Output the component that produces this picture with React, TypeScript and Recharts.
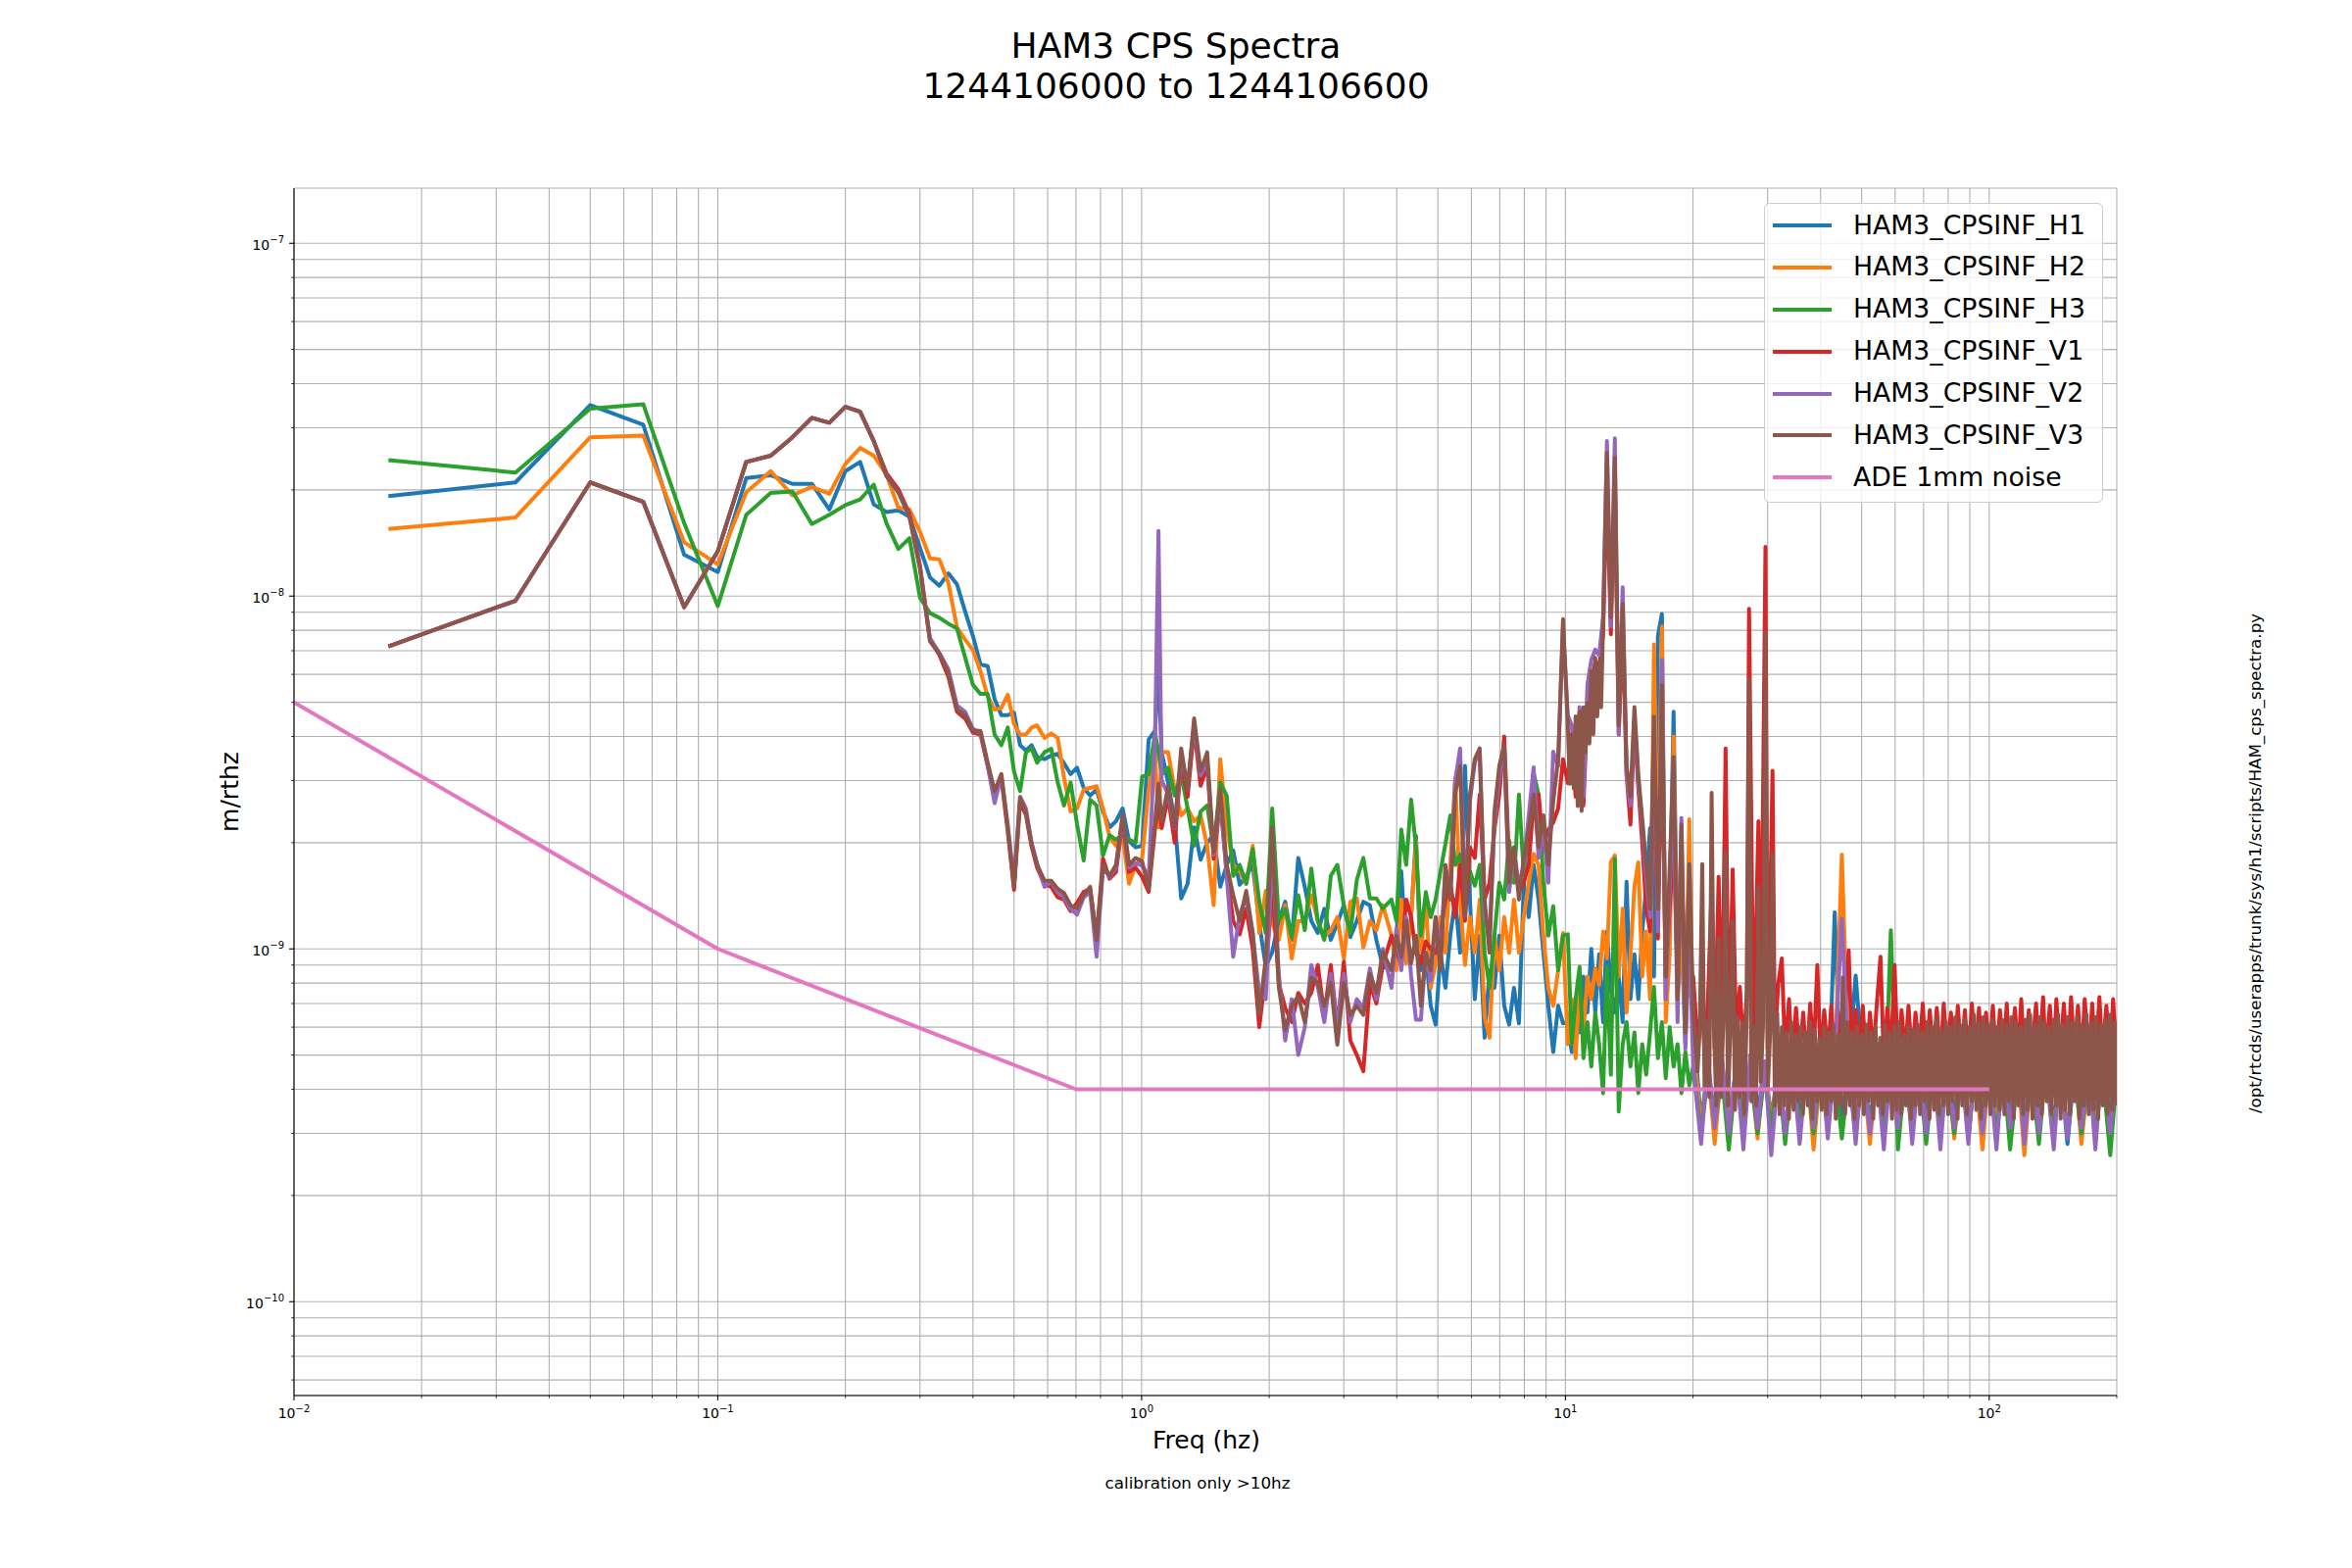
import { LineChart, Line, XAxis, YAxis, CartesianGrid, Legend } from 'recharts'

const FONT = '"DejaVu Sans", "Liberation Sans", sans-serif'

// All amplitudes below are in units of 1e-9 m/rtHz (scaled when the series are built).
const NANO = 1e-9

const FREQ_LOW = [
  0.0167, 0.0333, 0.05, 0.0667, 0.0833, 0.1, 0.1167, 0.1333, 0.15, 0.1667, 0.1833, 0.2, 0.2167, 0.2333,
  0.25, 0.2667, 0.2833, 0.3, 0.3167, 0.3333, 0.35, 0.3667, 0.3833, 0.4, 0.4167, 0.4333, 0.45, 0.4667,
  0.4833, 0.5, 0.5167, 0.5333, 0.55, 0.5667,
]
const FREQ_MID = [
  0.59, 0.612, 0.634, 0.656, 0.68, 0.704, 0.73, 0.756, 0.783, 0.811, 0.84, 0.87, 0.902, 0.934, 0.968,
  1.003, 1.039, 1.076, 1.096, 1.115, 1.155, 1.197, 1.24, 1.284, 1.33, 1.378, 1.428, 1.479, 1.533, 1.588,
  1.645, 1.704, 1.765, 1.829, 1.895, 1.963, 2.033, 2.107, 2.182, 2.261, 2.342, 2.427, 2.514, 2.605,
  2.698, 2.795, 2.896, 3.0, 3.108, 3.22, 3.336, 3.456, 3.58, 3.709,
]
const FREQ_BAND = [
  3.887, 3.992, 4.099, 4.21, 4.324, 4.44, 4.56, 4.683, 4.81, 4.94, 5.073, 5.21, 5.35, 5.495, 5.643,
  5.795, 5.952, 6.112, 6.277, 6.447, 6.621, 6.799, 6.983, 7.171, 7.365, 7.563, 7.768, 7.977, 8.193,
  8.414, 8.641, 8.874, 9.113, 9.359, 9.612, 9.871,
]
const FREQ_PEAK = [
  10.13, 10.35, 10.57, 10.8, 11.03, 11.27, 11.51, 11.76, 12.01, 12.27, 12.53, 12.8, 13.08, 13.36, 13.65,
  13.94, 14.24, 14.55, 14.86, 15.18, 15.51, 15.84, 16.18, 16.53, 16.89, 17.25, 17.62, 18.0, 18.39,
  18.78, 19.19, 19.6, 20.02,
]
// V3 is read more finely where its 10-12 Hz hump forms a solid band
const FREQ_PEAK_V3 = [
  10.13, 10.24, 10.35, 10.46, 10.57, 10.69, 10.8, 10.92, 11.03, 11.15, 11.27, 11.39, 11.51, 11.64, 11.76,
  11.89, 12.01, 12.14, 12.27, 12.53, 12.8, 13.08, 13.36, 13.65, 13.94, 14.24, 14.55, 14.86, 15.18,
  15.51, 15.84, 16.18, 16.53, 16.89, 17.25, 17.62, 18.0, 18.39, 18.78, 19.19, 19.6, 20.02,
]
// 20-200 Hz noise floor: V1 grid, a denser V3 grid and a coarse grid for the other channels
const FREQ_HI_FINE = [
  20.5, 21.03, 21.3, 21.7, 22.13, 22.5, 22.99, 23.4, 23.88, 24.3, 24.81, 25.3, 25.8, 26.3, 26.8, 27.12,
  27.8, 28.54, 28.9, 29.65, 30.0, 30.81, 31.2, 31.8, 32.4, 33.0, 33.7, 34.3, 35.0, 35.7, 36.4, 37.1,
  37.8, 38.5, 39.3, 40.0, 40.8, 41.6, 42.4, 43.2, 44.0, 44.9, 45.7, 46.6, 47.5, 48.4, 49.4, 50.3, 51.3,
  52.3, 53.3, 54.3, 55.4, 56.4, 57.5, 58.6, 59.8, 60.9, 62.1, 63.3, 64.5, 65.8, 67.0, 68.3, 69.7, 71.0,
  72.4, 73.8, 75.2, 76.7, 78.1, 79.6, 81.2, 82.7, 84.3, 86.0, 87.6, 89.3, 91.0, 92.8, 94.6, 96.4, 98.3,
  100, 102, 104, 106, 108, 110, 112, 115, 117, 119, 121, 124, 126, 129, 131, 134, 136, 139, 142, 144,
  147, 150, 153, 156, 159, 162, 165, 168, 172, 175, 178, 182, 185, 189, 193, 196, 200,
]
const FREQ_HI_DENSE = [
  20.5, 20.76, 21.03, 21.3, 21.57, 21.85, 22.13, 22.41, 22.7, 22.99,
  23.28, 23.58, 23.88, 24.19, 24.5, 24.81, 25.13, 25.45, 25.78, 26.11,
  26.44, 26.78, 27.12, 27.47, 27.82, 28.18, 28.54, 28.91, 29.28, 29.65,
  30.03, 30.42, 30.81, 31.2, 31.6, 32.0, 32.41, 32.83, 33.25, 33.68,
  34.11, 34.55, 34.99, 35.44, 35.89, 36.35, 36.82, 37.29, 37.77, 38.25,
  38.74, 39.24, 39.74, 40.25, 40.77, 41.29, 41.82, 42.35, 42.89, 43.44,
  44.0, 44.56, 45.13, 45.71, 46.3, 46.89, 47.49, 48.1, 48.72, 49.34,
  49.97, 50.61, 51.26, 51.92, 52.58, 53.26, 53.94, 54.63, 55.33, 56.04,
  56.75, 57.48, 58.22, 58.96, 59.72, 60.48, 61.26, 62.04, 62.84, 63.64,
  64.45, 65.28, 66.12, 66.96, 67.82, 68.69, 69.57, 70.46, 71.36, 72.28,
  73.2, 74.14, 75.09, 76.05, 77.02, 78.01, 79.01, 80.02, 81.05, 82.08,
  83.13, 84.2, 85.28, 86.37, 87.47, 88.59, 89.73, 90.88, 92.04, 93.22,
  94.41, 95.62, 96.85, 98.09, 99.34, 100.6, 101.9, 103.2, 104.5, 105.9,
  107.2, 108.6, 110.0, 111.4, 112.8, 114.3, 115.7, 117.2, 118.7, 120.2,
  121.8, 123.3, 124.9, 126.5, 128.1, 129.8, 131.4, 133.1, 134.8, 136.6,
  138.3, 140.1, 141.9, 143.7, 145.5, 147.4, 149.3, 151.2, 153.1, 155.1,
  157.1, 159.1, 161.1, 163.2, 165.3, 167.4, 169.6, 171.7, 173.9, 176.2,
  178.4, 180.7, 183.0, 185.4, 187.8, 190.2, 192.6, 195.1, 197.6, 200,
]
const FREQ_HI = [
  20.9, 21.7, 22.5, 23.4, 24.3, 25.3, 26.3, 27.3, 28.4, 29.5, 30.6, 31.8, 33.0, 34.3, 35.7, 37.1, 38.5,
  40.0, 41.6, 43.2, 44.9, 46.6, 48.4, 50.3, 52.3, 54.3, 56.4, 58.6, 60.9, 63.3, 65.8, 68.3, 71.0, 73.8,
  76.7, 79.6, 82.7, 86.0, 89.3, 92.8, 96.4, 100, 104, 108, 112, 117, 121, 126, 131, 136, 142, 147, 153,
  159, 165, 172, 178, 185, 193, 200,
]

// HAM3_CPSINF_H1
const H1_LOW = [
  19.2, 21, 34.8, 30.6, 13.1, 11.7, 21.6, 22, 20.8, 20.8, 17.6, 22.6, 24, 18.2, 17.3, 17.5, 16.8, 13.7,
  11.3, 10.7, 11.6, 10.8, 9.05, 7.7, 6.4, 6.33, 5.1, 4.6, 4.6, 4.67, 3.78, 3.65, 3.78, 3.5,
]
const H1_MID = [
  3.45, 3.53, 3.57, 3.36, 3.13, 3.26, 2.86, 2.72, 2.83, 2.45, 2.21, 2.3, 2.5, 2.02, 1.94, 1.96, 3.92,
  4.16, 6.2, 3.61, 2.96, 2.3, 1.39, 1.53, 2.21, 1.79, 2.0, 2.1, 1.5, 1.73, 1.9, 1.52, 1.61, 1.73, 1.18,
  0.89, 0.98, 1.2, 1.36, 1.06, 1.81, 1.5, 1.2, 1.11, 1.3, 1.06, 1.18, 1.33, 1.08, 1.2, 1.36, 1.33, 1.06,
  0.89,
]
const H1_BAND = [
  0.87, 1.09, 1.66, 0.975, 1.23, 2.09, 0.87, 0.975, 0.69, 0.61, 0.975, 0.775, 1.09, 1.38, 0.975, 3.3,
  1.38, 0.72, 1.09, 0.56, 0.87, 0.775, 1.09, 0.69, 0.61, 0.775, 0.615, 1.54, 1.23, 1.73, 1.38, 0.975,
  0.69, 0.51, 0.69, 0.615,
]
const H1_PEAK = [
  0.62, 0.51, 0.72, 0.58, 0.835, 0.66, 1.0, 0.66, 0.965, 0.62, 1.12, 0.77, 0.66, 0.835, 0.62, 1.55, 0.72,
  0.965, 0.72, 1.12, 1.5, 2.2, 0.835, 7.7, 8.9, 0.72, 1.3, 4.7, 0.835, 1.12, 0.537, 1.45, 0.62,
]
const H1_HI = [
  0.32, 0.47, 0.33, 0.48, 0.33, 0.46, 0.3, 0.47, 0.33, 0.48, 0.33, 0.46, 0.29, 0.47, 0.33, 0.48, 0.32,
  0.46, 0.33, 1.27, 0.32, 0.47, 0.84, 0.46, 0.32, 0.48, 0.33, 0.47, 0.32, 0.46, 0.32, 0.48, 0.33, 0.47,
  0.32, 0.46, 0.33, 0.48, 0.29, 0.47, 0.33, 0.46, 0.32, 0.48, 0.33, 0.47, 0.32, 0.46, 0.33, 0.48, 0.32,
  0.47, 0.28, 0.46, 0.33, 0.48, 0.32, 0.47, 0.33, 0.46,
]

// HAM3_CPSINF_H2
const H2_LOW = [
  15.5, 16.7, 28.2, 28.5, 14.2, 12.3, 19.7, 22.6, 19.3, 20.4, 19.5, 23.7, 26.3, 25, 22.1, 17.8, 17.6,
  15.2, 12.8, 12.7, 10.9, 8.15, 7.53, 7.03, 6.12, 5.2, 4.76, 4.82, 5.25, 4.34, 4.05, 4.05, 4.24, 4.3,
]
const H2_MID = [
  3.96, 4.08, 3.96, 3.06, 2.45, 2.5, 2.83, 2.86, 2.89, 2.5, 2.08, 1.96, 2.08, 1.53, 1.73, 1.81, 2.83,
  3.61, 2.21, 3.61, 3.61, 2.83, 2.39, 2.5, 2.3, 2.39, 1.96, 1.33, 3.45, 2.21, 1.73, 1.66, 1.53, 1.96,
  1.11, 1.46, 1.18, 1.06, 1.33, 0.94, 1.2, 1.2, 1.42, 1.2, 1.08, 1.13, 1.23, 0.94, 1.36, 1.39, 1.01, 1.2,
  1.13, 1.33,
]
const H2_BAND = [
  1.09, 0.87, 1.38, 0.91, 1.23, 2.03, 0.975, 1.38, 0.775, 0.91, 1.23, 0.975, 1.73, 3.05, 1.38, 0.9, 1.23,
  0.975, 1.38, 0.64, 0.56, 1.09, 0.87, 1.23, 0.975, 1.38, 0.975, 1.23, 1.54, 1.86, 1.73, 1.09, 0.775,
  0.69, 0.87, 1.11,
]
const H2_PEAK = [
  0.537, 0.72, 0.49, 0.79, 0.58, 0.835, 0.72, 0.88, 0.79, 1.12, 0.94, 1.76, 1.84, 0.835, 1.3, 0.66,
  0.965, 1.5, 1.76, 0.835, 1.12, 0.72, 7.3, 1.5, 8.2, 0.62, 0.965, 4.0, 0.72, 1.12, 0.62, 2.33, 0.537,
]
const H2_HI = [
  0.31, 0.46, 0.28, 0.47, 0.32, 0.45, 0.31, 0.46, 0.29, 0.47, 0.32, 0.45, 0.31, 0.46, 0.3, 0.47, 0.27,
  0.45, 0.31, 0.46, 1.85, 0.45, 0.31, 0.47, 0.28, 0.46, 0.31, 0.45, 0.3, 0.47, 0.3, 0.46, 0.31, 0.45,
  0.3, 0.47, 0.29, 0.46, 0.31, 0.45, 0.27, 0.47, 0.31, 0.46, 0.3, 0.45, 0.26, 0.47, 0.31, 0.46, 0.31,
  0.45, 0.3, 0.47, 0.28, 0.46, 0.31, 0.45, 0.31, 0.46,
]

// HAM3_CPSINF_H3
const H3_LOW = [
  24.3, 22.4, 34, 35, 16.1, 9.37, 17, 19.6, 19.8, 16, 17, 18.1, 18.8, 20.7, 16.1, 13.6, 14.6, 9.9, 8.95,
  8.68, 8.35, 8.1, 6.7, 5.6, 5.28, 5.28, 4.05, 3.78, 4.24, 3.18, 2.8, 3.6, 3.7, 3.37,
]
const H3_MID = [
  3.61, 3.69, 2.96, 2.55, 2.96, 2.26, 1.78, 2.65, 2.55, 1.84, 2.1, 2.04, 2.1, 2.04, 2.0, 3.08, 3.12,
  4.08, 3.61, 3.12, 3.26, 2.72, 3.12, 2.5, 1.96, 2.45, 2.55, 1.92, 2.96, 2.72, 1.61, 1.73, 1.53, 1.92,
  1.36, 1.11, 2.5, 1.2, 1.3, 1.08, 1.42, 1.13, 1.69, 1.2, 1.06, 1.61, 1.73, 1.33, 1.11, 1.57, 1.81, 1.39,
  1.39, 1.3,
]
const H3_BAND = [
  1.38, 1.2, 2.18, 1.73, 2.65, 1.94, 1.09, 1.45, 1.23, 1.38, 1.66, 1.98, 2.39, 1.73, 1.85, 1.38, 1.66,
  1.51, 1.73, 0.975, 0.775, 1.09, 1.54, 1.38, 2.03, 1.54, 2.74, 1.62, 2.18, 3.15, 2.74, 1.54, 1.09,
  1.32, 0.87, 1.09,
]
const H3_PEAK = [
  1.1, 0.537, 0.72, 0.89, 0.49, 0.62, 0.464, 0.66, 0.537, 0.39, 0.89, 0.44, 1.8, 0.346, 0.537, 0.62,
  0.464, 0.58, 0.39, 0.537, 0.44, 0.58, 0.78, 0.49, 0.62, 0.43, 0.6, 0.464, 0.537, 0.39, 0.51, 0.41,
  0.464,
]
const H3_HI = [
  0.3, 0.45, 0.32, 0.44, 0.27, 0.46, 0.32, 0.45, 0.3, 0.44, 0.31, 0.46, 0.28, 0.45, 0.32, 0.44, 0.3,
  0.46, 0.31, 0.45, 0.29, 0.44, 0.3, 0.46, 0.31, 0.45, 0.3, 1.13, 0.27, 0.44, 0.31, 0.46, 0.28, 0.45,
  0.31, 0.44, 0.3, 0.46, 0.3, 0.45, 0.31, 0.44, 0.3, 0.46, 0.27, 0.45, 0.31, 0.44, 0.28, 0.46, 0.3,
  0.45, 0.31, 0.44, 0.3, 0.46, 0.29, 0.45, 0.26, 0.44,
]

// HAM3_CPSINF_V1
const V1_LOW = [
  7.2, 9.7, 21, 18.5, 9.3, 13.4, 24, 25, 28.2, 32, 31, 34.4, 33.3, 27.5, 22.3, 20.1, 17.1, 12.2, 7.5,
  6.8, 5.9, 4.7, 4.5, 4.1, 4.05, 3.3, 2.75, 3.05, 2.15, 1.47, 2.6, 2.4, 1.95, 1.7,
]
const V1_MID = [
  1.52, 1.5, 1.4, 1.38, 1.28, 1.35, 1.45, 1.48, 1.08, 1.8, 1.58, 1.65, 2.3, 1.65, 1.7, 1.6, 1.45, 2.2,
  2.6, 2.2, 2.7, 2.0, 3.4, 2.7, 4.2, 2.9, 3.3, 1.8, 2.6, 1.65, 1.2, 1.1, 1.3, 1.0, 0.6, 0.85, 1.5, 0.8,
  0.68, 0.62, 0.75, 0.7, 0.75, 0.9, 0.65, 0.9, 0.6, 0.92, 0.55, 0.5, 0.45, 0.8, 0.7, 0.9,
]
const V1_BAND = [
  1.09, 0.975, 0.91, 1.38, 1.23, 0.975, 0.91, 1.05, 1.0, 0.975, 1.09, 1.38, 1.54, 1.23, 1.73, 1.2, 1.94,
  1.81, 2.74, 1.38, 1.54, 2.18, 2.74, 4.0, 1.73, 1.81, 1.45, 1.54, 1.73, 2.62, 2.74, 1.94, 2.18, 2.28,
  2.5, 3.45,
]
const V1_PEAK = [
  2.95, 4.05, 2.7, 4.3, 2.55, 4.85, 5.7, 6.5, 6.3, 7.8, 21, 7.8, 21, 4.05, 8.2, 3.12, 2.25, 4.4, 2.85,
  2.0, 1.3, 1.12, 3.6, 1.07, 4.2, 0.835, 1.3, 2.0, 0.835, 1.5, 0.965, 0.74, 0.835,
]
const V1_HI = [
  0.55, 0.7, 0.5, 0.72, 1.5, 0.52, 1.6, 0.55, 3.7, 0.5, 1.68, 0.55, 0.78, 0.52, 0.75, 9.2, 0.55, 2.3,
  0.58, 13.8, 0.52, 3.2, 0.55, 0.8, 0.94, 0.5, 0.72, 0.48, 0.68, 0.5, 0.66, 0.47, 0.7, 0.5, 0.9, 0.48,
  0.67, 0.5, 0.69, 0.47, 0.66, 0.5, 0.68, 0.99, 0.48, 0.67, 0.5, 0.69, 0.47, 0.66, 0.5, 0.7, 0.95, 0.48,
  0.68, 0.5, 0.9, 0.47, 0.67, 0.5, 0.69, 0.48, 0.66, 0.5, 0.7, 0.47, 0.67, 0.5, 0.68, 0.48, 0.7, 0.5,
  0.66, 0.47, 0.69, 0.5, 0.67, 0.48, 0.7, 0.5, 0.68, 0.47, 0.66, 0.5, 0.69, 0.48, 0.67, 0.5, 0.7, 0.47,
  0.68, 0.5, 0.72, 0.48, 0.67, 0.5, 0.7, 0.48, 0.73, 0.5, 0.69, 0.47, 0.72, 0.5, 0.7, 0.48, 0.73, 0.5,
  0.69, 0.47, 0.72, 0.5, 0.7, 0.48, 0.73, 0.5, 0.69, 0.48, 0.72, 0.5,
]

// HAM3_CPSINF_V2
const V2_LOW = [
  7.2, 9.7, 21, 18.5, 9.3, 13.4, 24, 25, 28.2, 32, 31, 34.4, 33.3, 27.5, 21.9, 19.7, 16.8, 12, 7.6, 6.9,
  6.2, 4.9, 4.7, 4.2, 4.1, 3.3, 2.59, 3.1, 2.25, 1.55, 2.7, 2.5, 2.0, 1.75,
]
const V2_MID = [
  1.5, 1.55, 1.45, 1.4, 1.3, 1.25, 1.4, 1.45, 0.95, 1.7, 1.6, 1.7, 2.35, 1.7, 1.75, 1.72, 1.6, 4.0,
  15.3, 3.0, 2.75, 2.2, 3.5, 2.9, 4.3, 3.1, 3.4, 1.85, 2.7, 1.6, 0.95, 1.25, 1.4, 1.1, 0.75, 0.72, 1.9,
  0.85, 0.55, 0.72, 0.5, 0.6, 0.9, 0.78, 0.62, 0.85, 0.6, 0.85, 0.62, 0.72, 0.68, 0.88, 0.72, 1.0,
]
const V2_BAND = [
  0.775, 1.14, 0.87, 1.23, 0.84, 0.63, 0.63, 0.975, 0.81, 1.23, 0.975, 1.66, 1.45, 3.0, 3.7, 1.38, 2.62,
  3.38, 3.62, 1.23, 1.09, 2.28, 3.07, 3.7, 1.45, 1.9, 1.51, 1.73, 2.39, 3.27, 1.81, 2.18, 1.54, 3.62,
  3.3, 8.2,
]
const V2_PEAK = [
  4.6, 4.3, 3.05, 4.85, 2.7, 5.6, 6.6, 7.05, 6.8, 8.7, 27.5, 8.2, 28.0, 4.05, 10.6, 3.12, 2.55, 4.4,
  2.95, 2.25, 1.6, 1.23, 4.2, 1.12, 6.6, 0.72, 1.5, 2.7, 0.62, 2.35, 0.52, 1.12, 0.464,
]
const V2_HI = [
  0.28, 0.48, 0.31, 0.5, 0.3, 0.47, 0.27, 0.5, 0.31, 0.48, 0.26, 0.46, 0.3, 0.49, 0.28, 0.47, 0.31, 0.5,
  0.29, 0.48, 1.22, 0.47, 0.28, 0.49, 0.3, 0.46, 0.27, 0.48, 0.31, 0.5, 0.28, 0.47, 0.3, 0.49, 0.27,
  0.48, 0.31, 0.46, 0.28, 0.5, 0.3, 0.47, 0.27, 0.49, 0.31, 0.48, 0.28, 0.5, 0.3, 0.47, 0.27, 0.49,
  0.29, 0.48, 0.31, 0.46, 0.27, 0.5, 0.3, 0.47,
]

// HAM3_CPSINF_V3
const V3_LOW = [
  7.2, 9.7, 21, 18.5, 9.3, 13.4, 24, 25, 28.2, 32, 31, 34.4, 33.3, 27.5, 21.9, 19.7, 16.8, 12, 7.45,
  6.87, 6.05, 4.76, 4.6, 4.15, 4.15, 3.37, 2.8, 3.13, 2.2, 1.5, 2.68, 2.44, 1.98, 1.73,
]
const V3_MID = [
  1.56, 1.56, 1.48, 1.44, 1.33, 1.3, 1.42, 1.5, 1.06, 1.73, 1.61, 1.73, 2.4, 1.73, 1.81, 1.77, 1.48, 2.3,
  2.94, 2.3, 2.89, 2.21, 3.7, 2.83, 4.5, 3.19, 3.61, 1.88, 2.83, 1.73, 1.42, 1.2, 1.46, 1.11, 0.65,
  0.94, 2.21, 0.78, 0.59, 0.69, 0.735, 0.62, 0.83, 0.8, 0.69, 0.8, 0.535, 0.8, 0.65, 0.69, 0.65, 0.85,
  0.75, 0.98,
]
const V3_BAND = [
  0.87, 1.09, 0.95, 1.2, 0.91, 1.09, 0.69, 0.975, 0.87, 1.23, 0.87, 1.73, 1.38, 2.74, 3.3, 1.23, 2.74,
  3.45, 3.7, 1.38, 0.975, 2.44, 3.3, 3.78, 1.54, 1.94, 1.38, 1.81, 2.18, 2.74, 1.94, 2.39, 1.73, 2.62,
  3.45, 8.6,
]
const V3_PEAK = [
  4.3, 2.94, 4.06, 2.85, 4.56, 2.54, 4.7, 2.46, 4.84, 3.6, 4.98, 3.82, 6.12, 4.06, 6.68, 4.56, 6.49,
  4.84, 8.2, 25.5, 8.7, 24.7, 4.3, 9.5, 3.3, 2.7, 4.85, 3.12, 2.33, 1.74, 1.3, 4.55, 1.3, 5.6, 0.835,
  1.7, 3.5, 0.72, 2.25, 0.58, 1.74, 0.66,
]
const V3_HI = [
  0.45, 0.6, 1.74, 0.4, 0.62, 0.38, 2.77, 0.6, 0.36, 1.07,
  0.38, 0.62, 1.88, 0.36, 0.6, 1.2, 0.35, 0.64, 0.38, 0.62,
  0.34, 0.65, 5.8, 0.37, 0.6, 0.36, 1.5, 0.42, 0.62, 7.9,
  0.4, 0.58, 1.85, 0.36, 0.66, 0.34, 0.6, 0.36, 0.58, 0.33,
  0.62, 0.35, 0.57, 0.37, 0.6, 0.34, 0.58, 0.36, 0.62, 0.33,
  0.59, 0.37, 0.56, 0.35, 0.6, 0.34, 0.58, 0.37, 0.61, 0.33,
  0.57, 0.36, 0.83, 0.34, 0.62, 0.36, 0.58, 0.33, 0.6, 0.36,
  0.57, 0.34, 0.61, 0.37, 0.58, 0.33, 0.6, 0.36, 0.56, 0.34,
  0.61, 0.37, 0.58, 0.33, 0.6, 0.35, 0.62, 0.34, 0.57, 0.36,
  0.6, 0.33, 0.59, 0.36, 0.61, 0.34, 0.58, 0.37, 0.62, 0.33,
  0.6, 0.35, 0.63, 0.34, 0.59, 0.36, 0.62, 0.34, 0.6, 0.37,
  0.64, 0.33, 0.61, 0.36, 0.63, 0.34, 0.6, 0.37, 0.65, 0.35,
  0.62, 0.33, 0.64, 0.36, 0.61, 0.34, 0.63, 0.36, 0.6, 0.35,
  0.63, 0.34, 0.61, 0.37, 0.64, 0.33, 0.62, 0.36, 0.6, 0.34,
  0.63, 0.35, 0.65, 0.33, 0.61, 0.36, 0.64, 0.34, 0.62, 0.37,
  0.6, 0.34, 0.63, 0.36, 0.65, 0.33, 0.61, 0.35, 0.64, 0.34,
  0.62, 0.37, 0.64, 0.33, 0.61, 0.36, 0.65, 0.34, 0.62, 0.35,
  0.64, 0.33, 0.61, 0.36, 0.63, 0.34, 0.65, 0.35, 0.62, 0.36,
]

// ADE 1mm noise model
const ADE_FREQ = [0.01, 0.1, 0.7, 100]
const ADE_VAL = [5, 1, 0.4, 0.4]

// Axis ticks (log axes, majors get a 10^n label, the rest are minor grid lines)
const X_TICKS = [
  0.01, 0.02, 0.03, 0.04, 0.05, 0.06, 0.07, 0.08, 0.09, 0.1, 0.2, 0.3, 0.4, 0.5, 0.6, 0.7, 0.8, 0.9, 1, 2,
  3, 4, 5, 6, 7, 8, 9, 10, 20, 30, 40, 50, 60, 70, 80, 90, 100, 200,
]
const Y_TICKS = [
  6e-11, 7e-11, 8e-11, 9e-11, 1e-10, 2e-10, 3e-10, 4e-10, 5e-10, 6e-10, 7e-10, 8e-10, 9e-10, 1e-9, 2e-9,
  3e-9, 4e-9, 5e-9, 6e-9, 7e-9, 8e-9, 9e-9, 1e-8, 2e-8, 3e-8, 4e-8, 5e-8, 6e-8, 7e-8, 8e-8, 9e-8, 1e-7,
]
const X_DOMAIN = [0.01, 200]
const Y_DOMAIN = [5.42e-11, 1.433e-7]

type Pt = { f: number; v: number }

function points(freqs: number[], vals: number[]): Pt[] {
  return freqs.map((f, i) => ({ f, v: vals[i] * NANO }))
}

const SERIES = [
  {
    name: 'HAM3_CPSINF_H1',
    color: '#1f77b4',
    data: [
      ...points(FREQ_LOW, H1_LOW), ...points(FREQ_MID, H1_MID), ...points(FREQ_BAND, H1_BAND),
      ...points(FREQ_PEAK, H1_PEAK), ...points(FREQ_HI, H1_HI),
    ],
  },
  {
    name: 'HAM3_CPSINF_H2',
    color: '#ff7f0e',
    data: [
      ...points(FREQ_LOW, H2_LOW), ...points(FREQ_MID, H2_MID), ...points(FREQ_BAND, H2_BAND),
      ...points(FREQ_PEAK, H2_PEAK), ...points(FREQ_HI, H2_HI),
    ],
  },
  {
    name: 'HAM3_CPSINF_H3',
    color: '#2ca02c',
    data: [
      ...points(FREQ_LOW, H3_LOW), ...points(FREQ_MID, H3_MID), ...points(FREQ_BAND, H3_BAND),
      ...points(FREQ_PEAK, H3_PEAK), ...points(FREQ_HI, H3_HI),
    ],
  },
  {
    name: 'HAM3_CPSINF_V1',
    color: '#d62728',
    data: [
      ...points(FREQ_LOW, V1_LOW), ...points(FREQ_MID, V1_MID), ...points(FREQ_BAND, V1_BAND),
      ...points(FREQ_PEAK, V1_PEAK), ...points(FREQ_HI_FINE, V1_HI),
    ],
  },
  {
    name: 'HAM3_CPSINF_V2',
    color: '#9467bd',
    data: [
      ...points(FREQ_LOW, V2_LOW), ...points(FREQ_MID, V2_MID), ...points(FREQ_BAND, V2_BAND),
      ...points(FREQ_PEAK, V2_PEAK), ...points(FREQ_HI, V2_HI),
    ],
  },
  {
    name: 'HAM3_CPSINF_V3',
    color: '#8c564b',
    data: [
      ...points(FREQ_LOW, V3_LOW), ...points(FREQ_MID, V3_MID), ...points(FREQ_BAND, V3_BAND),
      ...points(FREQ_PEAK_V3, V3_PEAK), ...points(FREQ_HI_DENSE, V3_HI),
    ],
  },
  { name: 'ADE 1mm noise', color: '#e377c2', data: points(ADE_FREQ, ADE_VAL) },
]

function isDecade(v: number) {
  const e = Math.log10(v)
  return Math.abs(e - Math.round(e)) < 1e-6
}

function exponent(v: number) {
  const e = Math.round(Math.log10(v))
  return e < 0 ? `\u2212${-e}` : `${e}`
}

// matplotlib-style outward ticks: major 3.5pt, minor 2pt
function XTick({ x, y, payload }: any) {
  const major = isDecade(payload.value)
  return (
    <g>
      <line x1={x} x2={x} y1={y} y2={y + (major ? 4.9 : 2.8)} stroke="#000" strokeWidth={major ? 1.1 : 0.8} />
      {major && (
        <text x={x} y={y + 23} textAnchor="middle" fontFamily={FONT} fontSize={14} fill="#000">
          10
          <tspan dy={-6} fontSize={10}>
            {exponent(payload.value)}
          </tspan>
        </text>
      )}
    </g>
  )
}

function YTick({ x, y, payload }: any) {
  const major = isDecade(payload.value)
  return (
    <g>
      <line x1={x} x2={x - (major ? 4.9 : 2.8)} y1={y} y2={y} stroke="#000" strokeWidth={major ? 1.1 : 0.8} />
      {major && (
        <text x={x - 10} y={y + 7} textAnchor="end" fontFamily={FONT} fontSize={14} fill="#000">
          10
          <tspan dy={-7} fontSize={10}>
            {exponent(payload.value)}
          </tspan>
        </text>
      )}
    </g>
  )
}

function LegendBox() {
  return (
    <div
      style={{
        boxSizing: 'border-box',
        width: 346,
        height: 306,
        border: '1px solid #cccccc',
        borderRadius: 6,
        background: 'rgba(255,255,255,0.8)',
        paddingTop: 0.5,
      }}
    >
      {SERIES.map((s) => (
        <div key={s.name} style={{ height: 42.9, display: 'flex', alignItems: 'center' }}>
          <div style={{ marginLeft: 8, width: 60, height: 4, background: s.color }} />
          <span
            style={{ marginLeft: 22, fontFamily: FONT, fontSize: 26.7, lineHeight: 1, color: '#000', whiteSpace: 'nowrap' }}
          >
            {s.name}
          </span>
        </div>
      ))}
    </div>
  )
}

const textBase = { position: 'absolute' as const, fontFamily: FONT, color: '#000', whiteSpace: 'nowrap' as const, lineHeight: 1 }

export default function App() {
  return (
    <div style={{ position: 'absolute', left: 0, top: 0, width: 2400, height: 1600, background: '#fff' }}>
      <LineChart width={2400} height={1600} margin={{ top: 192, right: 240, bottom: 136, left: 220 }}>
        <CartesianGrid stroke="#b0b0b0" strokeWidth={1.1} />
        <XAxis
          dataKey="f"
          type="number"
          scale="log"
          domain={X_DOMAIN}
          ticks={X_TICKS}
          interval={0}
          allowDataOverflow
          height={40}
          tickSize={0}
          tickMargin={0}
          tickLine={false}
          axisLine={{ stroke: '#000', strokeWidth: 1.1 }}
          tick={(p: any) => <XTick {...p} />}
        />
        <YAxis
          dataKey="v"
          type="number"
          scale="log"
          domain={Y_DOMAIN}
          ticks={Y_TICKS}
          interval={0}
          allowDataOverflow
          width={80}
          tickSize={0}
          tickMargin={0}
          tickLine={false}
          axisLine={{ stroke: '#000', strokeWidth: 1.1 }}
          tick={(p: any) => <YTick {...p} />}
        />
        {SERIES.map((s) => (
          <Line
            key={s.name}
            data={s.data}
            dataKey="v"
            name={s.name}
            type="linear"
            stroke={s.color}
            strokeWidth={4}
            strokeLinejoin="round"
            dot={false}
            activeDot={false}
            isAnimationActive={false}
          />
        ))}
        {/* frame: top and right spines */}
        <XAxis xAxisId="top" orientation="top" type="number" domain={[0, 1]} height={0} tick={false} tickLine={false} axisLine={{ stroke: '#000', strokeWidth: 1.1 }} />
        <YAxis yAxisId="right" orientation="right" type="number" domain={[0, 1]} width={0} tick={false} tickLine={false} axisLine={{ stroke: '#000', strokeWidth: 1.1 }} />
        <Legend
          layout="vertical"
          align="center"
          verticalAlign="middle"
          wrapperStyle={{ left: 1800, top: 207, width: 346, height: 306 }}
          content={() => <LegendBox />}
        />
      </LineChart>

      <div style={{ ...textBase, left: 0, width: 2400, top: 29, textAlign: 'center', fontSize: 36 }}>HAM3 CPS Spectra</div>
      <div style={{ ...textBase, left: 0, width: 2400, top: 70, textAlign: 'center', fontSize: 36 }}>
        1244106000 to 1244106600
      </div>
      <div style={{ ...textBase, left: 234, top: 808, fontSize: 25, transform: 'translate(-50%, -50%) rotate(-90deg)' }}>
        m/rthz
      </div>
      <div style={{ ...textBase, left: 1231, top: 1469, fontSize: 25, transform: 'translate(-50%, -50%)' }}>Freq (hz)</div>
      <div style={{ ...textBase, left: 1222, top: 1513, fontSize: 16.7, transform: 'translate(-50%, -50%)' }}>
        calibration only &gt;10hz
      </div>
      <div style={{ ...textBase, left: 2301, top: 881, fontSize: 16.7, transform: 'translate(-50%, -50%) rotate(-90deg)' }}>
        /opt/rtcds/userapps/trunk/sys/h1/scripts/HAM_cps_spectra.py
      </div>
    </div>
  )
}
